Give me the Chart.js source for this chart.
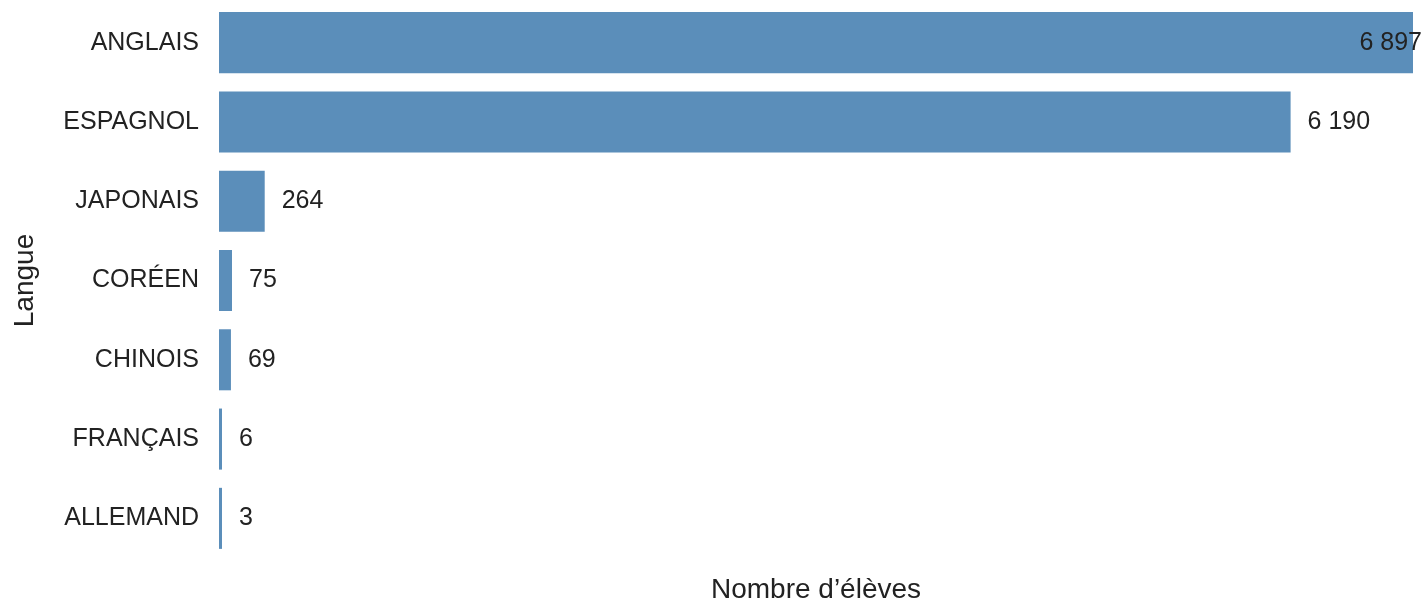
<!DOCTYPE html>
<html>
<head>
<meta charset="utf-8">
<script src="https://cdn.jsdelivr.net/npm/chart.js@4/dist/chart.umd.min.js"></script>
<style>
  html, body { margin: 0; padding: 0; background: #fff; }
  #chart { display: block; }
</style>
</head>
<body>
<canvas id="chart" width="1422" height="604"></canvas>
<script>
// Langues et nombre d'élèves
const langues = ['ANGLAIS', 'ESPAGNOL', 'JAPONAIS', 'CORÉEN', 'CHINOIS', 'FRANÇAIS', 'ALLEMAND'];
const eleves = [6897, 6190, 264, 75, 69, 6, 3];

const FONT = "'Liberation Sans', Arial, sans-serif";
const TEXT = '#222222';

const fmt = (v) => String(v).replace(/\B(?=(\d{3})+(?!\d))/g, ' ');

// value labels after each bar, kept inside the canvas
const valueLabels = {
  id: 'valueLabels',
  afterDatasetsDraw(chart) {
    const ctx = chart.ctx;
    const meta = chart.getDatasetMeta(0);
    ctx.save();
    ctx.font = '25px ' + FONT;
    ctx.fillStyle = TEXT;
    ctx.textBaseline = 'middle';
    ctx.textAlign = 'left';
    meta.data.forEach((bar, i) => {
      const txt = fmt(eleves[i]);
      const w = ctx.measureText(txt).width;
      const x = Math.min(bar.x + 17, chart.width - w);
      ctx.fillText(txt, x, bar.y);
    });
    ctx.restore();
  }
};

const noPad = (scale) => {
  scale.paddingTop = 0;
  scale.paddingBottom = 0;
  scale.paddingLeft = 0;
  scale.paddingRight = 0;
};

new Chart(document.getElementById('chart'), {
  type: 'bar',
  data: {
    labels: langues,
    datasets: [{
      data: eleves,
      backgroundColor: '#5b8eba',
      borderWidth: 0,
      barPercentage: 0.77,
      categoryPercentage: 1,
      minBarLength: 3
    }]
  },
  options: {
    indexAxis: 'y',
    responsive: false,
    animation: false,
    devicePixelRatio: 1,
    layout: { padding: { top: 3, right: 9, left: 0, bottom: 0 } },
    plugins: {
      legend: { display: false },
      tooltip: { enabled: false }
    },
    scales: {
      x: {
        min: 0,
        max: 6897,
        grid: { display: false, drawTicks: false },
        border: { display: false },
        ticks: { display: false },
        title: {
          display: true,
          text: 'Nombre d’élèves',
          color: TEXT,
          font: { family: FONT, size: 28, lineHeight: 1 },
          padding: { top: 0, bottom: 0 }
        },
        afterFit: (scale) => { noPad(scale); scale.height = 46; }
      },
      y: {
        grid: { display: false, drawTicks: false },
        border: { display: false },
        ticks: {
          color: TEXT,
          font: { family: FONT, size: 25 },
          padding: 20
        },
        title: {
          display: true,
          text: 'Langue',
          color: TEXT,
          font: { family: FONT, size: 28, lineHeight: 1 },
          padding: { top: 11, bottom: 0 }
        },
        afterFit: (scale) => { noPad(scale); scale.width = 219; }
      }
    }
  },
  plugins: [valueLabels]
});
</script>
</body>
</html>
